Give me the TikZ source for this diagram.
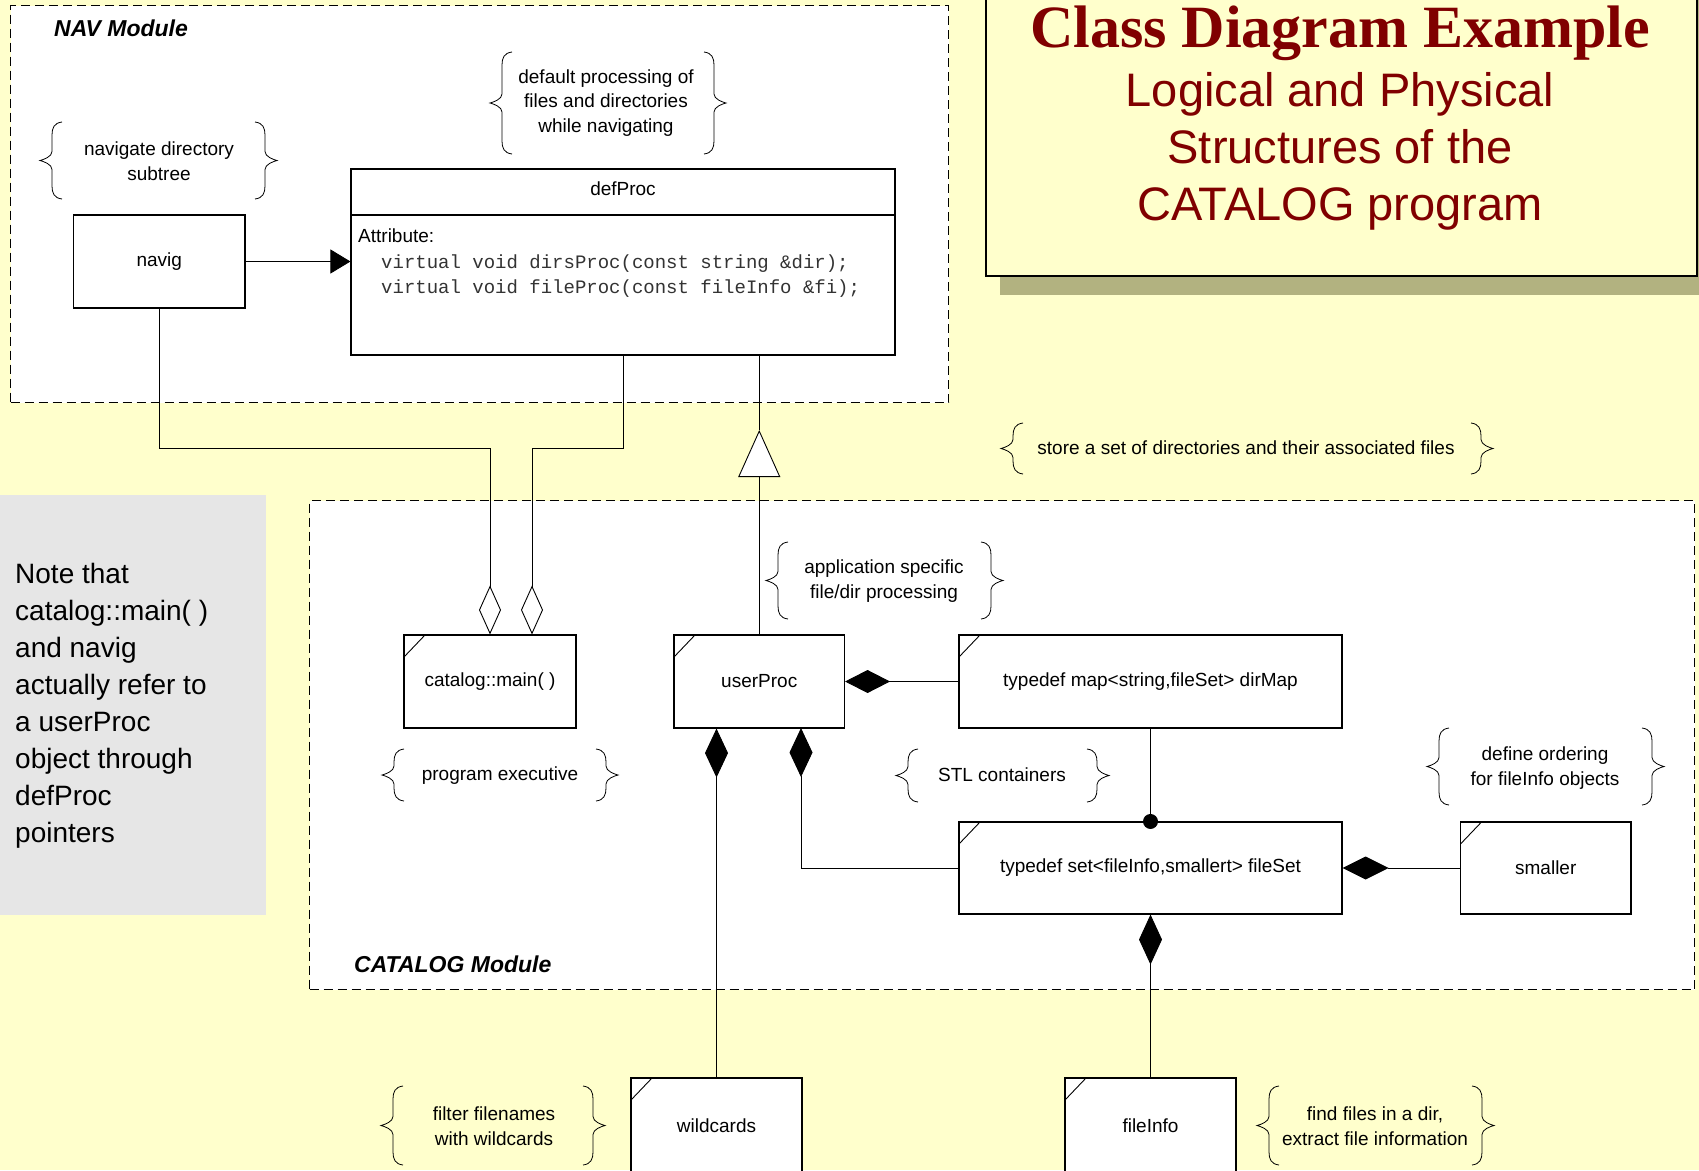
\documentclass[tikz,border=0pt]{standalone}
\usepackage{fontspec}
\setmainfont{Liberation Sans}
\setmonofont{Liberation Mono}
\newfontfamily\headserif{Liberation Serif}
\usetikzlibrary{arrows.meta,calc}

\definecolor{pagebg}{RGB}{255,255,204}
\definecolor{notegray}{RGB}{230,230,230}
\definecolor{titlered}{RGB}{128,0,0}
\definecolor{shadowolive}{RGB}{178,178,128}

\tikzset{
  txt/.style={inner sep=0pt, font=\fontsize{19}{24.5}\selectfont, align=center},
  module/.style={draw, fill=white, line width=1.1pt, dash pattern=on 9pt off 5pt, inner sep=0pt},
  plainbox/.style={draw, fill=white, line width=1.1pt, inner sep=0pt, font=\fontsize{19}{24.5}\selectfont},
  objbox/.style={plainbox, path picture={\draw[line width=0.9pt]
      ([yshift=-22pt]path picture bounding box.north west) --
      ([xshift=21pt]path picture bounding box.north west);}},
  link/.style={line width=0.9pt},
  bracepen/.style={line width=0.8pt},
  modlabel/.style={inner sep=0pt, anchor=west, font=\fontsize{23}{28}\selectfont\bfseries\itshape},
  aggtip/.style={-{Diamond[length=49pt,width=22pt,fill=white]}},
  comptip/.style={-{Diamond[length=#1,width=23pt]}},
  gentip/.style={-{Triangle[length=47pt,width=42pt,fill=white]}},
  usetip/.style={-{Triangle[length=20pt,width=24pt]}},
  pics/lbr/.style={code={
    \draw[bracepen] (22,-#1) .. controls (14,-#1+1) and (12,-#1+6) .. (12,-#1+13)
      -- (12,-9) .. controls (12,-4) and (4,-1) .. (0,0)
      .. controls (4,1) and (12,4) .. (12,9)
      -- (12,#1-13) .. controls (12,#1-6) and (14,#1-1) .. (22,#1);
  }},
  pics/rbr/.style={code={
    \draw[bracepen] (-22,-#1) .. controls (-14,-#1+1) and (-12,-#1+6) .. (-12,-#1+13)
      -- (-12,-9) .. controls (-12,-4) and (-4,-1) .. (0,0)
      .. controls (-4,1) and (-12,4) .. (-12,9)
      -- (-12,#1-13) .. controls (-12,#1-6) and (-14,#1-1) .. (-22,#1);
  }},
}

\begin{document}
\begin{tikzpicture}[x=1pt,y=-1pt]
\useasboundingbox (0,0) rectangle (1699,1170);
\clip (0,0) rectangle (1699,1170);
\fill[pagebg] (0,0) rectangle (1699,1170);

% title panel with its shadow
\fill[shadowolive] (1000,-20) rectangle (1720,295);
\node[draw, fill=pagebg, line width=2pt, inner sep=0pt, minimum width=711.5, minimum height=297,
      anchor=south west] (titlebox) at (984.5,277) {};
\node[inner sep=0pt, anchor=base, text=titlered,
      font=\headserif\bfseries\fontsize{60}{60}\selectfont] (ttl) at (1340,47) {Class Diagram Example};
\node[inner sep=0pt, anchor=north, text=titlered, align=center,
      font=\fontsize{47}{57}\selectfont] (subttl) at (1340,72)
      {Logical and Physical\\Structures of the\\CATALOG program};

% side note
\node[fill=notegray, inner sep=0pt, minimum width=266, minimum height=420, anchor=north west]
      (notebg) at (0,495) {};
\node[inner sep=0pt, anchor=north west, align=left, font=\fontsize{28}{37}\selectfont]
      (notetxt) at (15,563)
      {Note that\\catalog::main( )\\and navig\\actually refer to\\a userProc\\object through\\defProc\\pointers};

% modules
\node[module, minimum width=938, minimum height=397, anchor=north west] (navmod) at (10,5) {};
\node[modlabel] (navlbl) at (54,28) {NAV Module};
\node[module, minimum width=1385, minimum height=489, anchor=north west] (catmod) at (309,500) {};
\node[modlabel] (catlbl) at (354,964) {CATALOG Module};

% classes
\node[plainbox, minimum width=171.5, minimum height=93] (navig) at (159.25,261.5) {navig};
\node[plainbox, minimum width=544, minimum height=186] (defProc) at (623,262) {};
\draw[line width=1.1pt] (defProc.west |- 0,215) -- (defProc.east |- 0,215);
\node[txt] (defProcName) at (623,189) {defProc};
\node[txt, anchor=west] (attr) at (358,236) {Attribute:};
\node[inner sep=0pt, anchor=base west, text=black!80, font=\ttfamily\fontsize{19}{25}\selectfont]
      (code1) at (381,268) {virtual void dirsProc(const string \&dir);};
\node[inner sep=0pt, anchor=base west, text=black!80, font=\ttfamily\fontsize{19}{25}\selectfont]
      (code2) at (381,293) {virtual void fileProc(const fileInfo \&fi);};

\node[objbox, minimum width=172, minimum height=93] (main) at (490,681.5) {catalog::main( )};
\node[objbox, minimum width=170.5, minimum height=93] (userProc) at (759.25,681.5) {userProc};
\node[objbox, minimum width=383, minimum height=93] (dirMap) at (1150.5,681.5) {typedef map<string,fileSet> dirMap};
\node[objbox, minimum width=383, minimum height=92] (fileSet) at (1150.5,868) {typedef set<fileInfo,smallert> fileSet};
\node[objbox, minimum width=170.5, minimum height=92] (smaller) at (1545.75,868) {smaller};
\node[objbox, minimum width=171, minimum height=96] (wildcards) at (716.5,1126) {wildcards};
\node[objbox, minimum width=171, minimum height=96] (fileInfo) at (1150.5,1126) {fileInfo};

% helper points for bent connectors
\coordinate (aggL) at (490,448);
\coordinate (aggR) at (532,448);
\coordinate (genApex) at (759.25,430);
\coordinate (upR) at (801,728);

% connectors
\draw[link, usetip] (navig.east) -- (navig.east -| defProc.west);
\draw[link, aggtip] (navig.south) |- (aggL) -- (aggL |- main.north);
\draw[link, aggtip] (defProc.south) |- (aggR) -- (aggR |- main.north);
\draw[link, gentip] (userProc.north) -- (genApex);
\draw[link] (genApex) -- (genApex |- defProc.south);
\draw[link, comptip=45pt] (dirMap.west) -- (userProc.east);
\draw[link, comptip=49pt] (wildcards.north) -- (wildcards.north |- userProc.south);
\draw[link, comptip=49pt] (fileSet.west) -| (upR);
\draw[link, comptip=46pt] (smaller.west) -- (fileSet.east);
\draw[link, comptip=50pt] (fileInfo.north) -- (fileSet.south);
\draw[link] (dirMap.south) -- (fileSet.north);
\fill (fileSet.north) circle (7.5);

% annotations in braces
\node[txt] (navnote) at (159,161) {navigate directory\\subtree};
\pic at (40,160.5) {lbr=38.5};  \pic at (277,160.5) {rbr=38.5};

\node[txt] (defnote) at (606,103) {default processing of\\files and directories\\while navigating};
\pic at (490,103) {lbr=51};  \pic at (726,103) {rbr=51};

\node[txt] (storenote) at (1246,448) {store a set of directories and their associated files};
\pic at (1001,448.5) {lbr=25.5};  \pic at (1493,448.5) {rbr=25.5};

\node[txt] (appnote) at (884,581) {application specific\\file/dir processing};
\pic at (766,580.5) {lbr=38.5};  \pic at (1003,580.5) {rbr=38.5};

\node[txt] (execnote) at (500,776) {program executive};
\pic at (382,775) {lbr=26};  \pic at (618,775) {rbr=26};

\node[txt] (stlnote) at (1002,775) {STL containers};
\pic at (896,775.5) {lbr=26.5};  \pic at (1109,775.5) {rbr=26.5};

\node[txt] (ordernote) at (1545,768) {define ordering\\for fileInfo objects};
\pic at (1427,766.5) {lbr=38.5};  \pic at (1664,766.5) {rbr=38.5};

\node[txt] (filternote) at (494,1126) {filter filenames\\with wildcards};
\pic at (381,1125.5) {lbr=39.5};  \pic at (605,1125.5) {rbr=39.5};

\node[txt] (findnote) at (1375,1126) {find files in a dir,\\extract file information};
\pic at (1257,1125.5) {lbr=39.5};  \pic at (1494,1125.5) {rbr=39.5};
\end{tikzpicture}
\end{document}
